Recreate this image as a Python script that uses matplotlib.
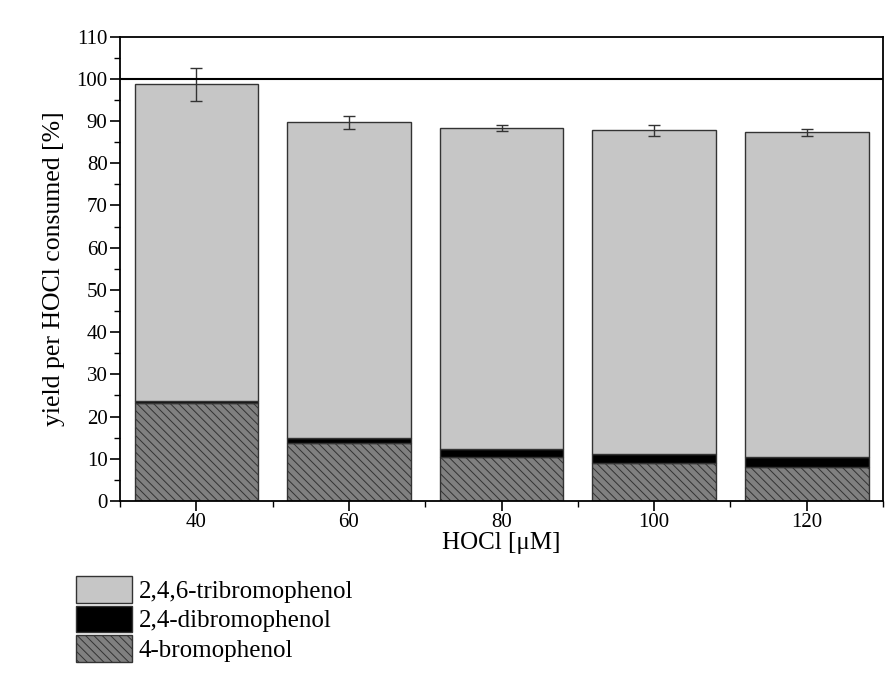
import matplotlib
matplotlib.use("Agg")
import matplotlib.pyplot as plt
from matplotlib.ticker import MultipleLocator
import numpy as np

plt.rcParams['font.family'] = ['Liberation Serif', 'DejaVu Serif']
plt.rcParams['hatch.linewidth'] = 0.7
plt.rcParams['hatch.color'] = '#1a1a1a'

hocl = [40, 60, 80, 100, 120]
bromo4 = [23.3, 13.7, 10.3, 9.1, 8.1]
dibromo24 = [0.3, 1.2, 1.9, 2.0, 2.4]
tribromo246 = [75.1, 74.8, 76.1, 76.7, 76.8]
total_err = [3.85, 1.6, 0.75, 1.35, 0.9]
labels = ["2,4,6-tribromophenol", "2,4-dibromophenol", "4-bromophenol"]

fig = plt.figure(figsize=(8.96, 6.77), dpi=100)
ax = fig.add_axes([0.134, 0.26, 0.8515, 0.686])

x = np.array(hocl, dtype=float)
b4 = np.array(bromo4)
d24 = np.array(dibromo24)
t246 = np.array(tribromo246)
w = 16.2

h1 = ax.bar(x, b4, width=w, color='#808080', edgecolor='#333333', linewidth=1.0,
            hatch='\\\\\\\\', label=labels[2])
h2 = ax.bar(x, d24, width=w, bottom=b4, color='black', edgecolor='#333333',
            linewidth=1.0, label=labels[1])
h3 = ax.bar(x, t246, width=w, bottom=b4 + d24, color='#c6c6c6', edgecolor='#333333',
            linewidth=1.0, label=labels[0])
ax.errorbar(x, b4 + d24 + t246, yerr=total_err, fmt='none', ecolor='#333333',
            elinewidth=1.0, capsize=4, capthick=1.0)

ax.axhline(100, color='black', lw=1.5)

ax.set_xlim(30, 130)
ax.set_ylim(0, 110)
ax.xaxis.set_major_locator(MultipleLocator(20))
ax.yaxis.set_major_locator(MultipleLocator(10))
ax.yaxis.set_minor_locator(MultipleLocator(5))
ax.set_xticks(hocl)
ax.set_xticklabels([str(v) for v in hocl])
ax.xaxis.set_minor_locator(MultipleLocator(10))
ax.tick_params(axis='both', which='major', direction='out', length=7, width=1.2,
               labelsize=15, pad=2)
ax.tick_params(axis='both', which='minor', direction='out', length=4, width=1.0)
for s in ax.spines.values():
    s.set_linewidth(1.3)

ax.set_xlabel("HOCl [μM]", fontsize=18, labelpad=0)
ax.set_ylabel("yield per HOCl consumed [%]", fontsize=18.5, labelpad=8)

leg = fig.legend(handles=[h3, h2, h1], labels=labels, loc='upper left',
                 bbox_to_anchor=(0.085, 0.149), frameon=False, fontsize=18,
                 handlelength=2.25, handleheight=1.25, labelspacing=0.12,
                 handletextpad=0.25, borderpad=0.0, borderaxespad=0.0)

fig.savefig("out.png", dpi=100, facecolor='white')
